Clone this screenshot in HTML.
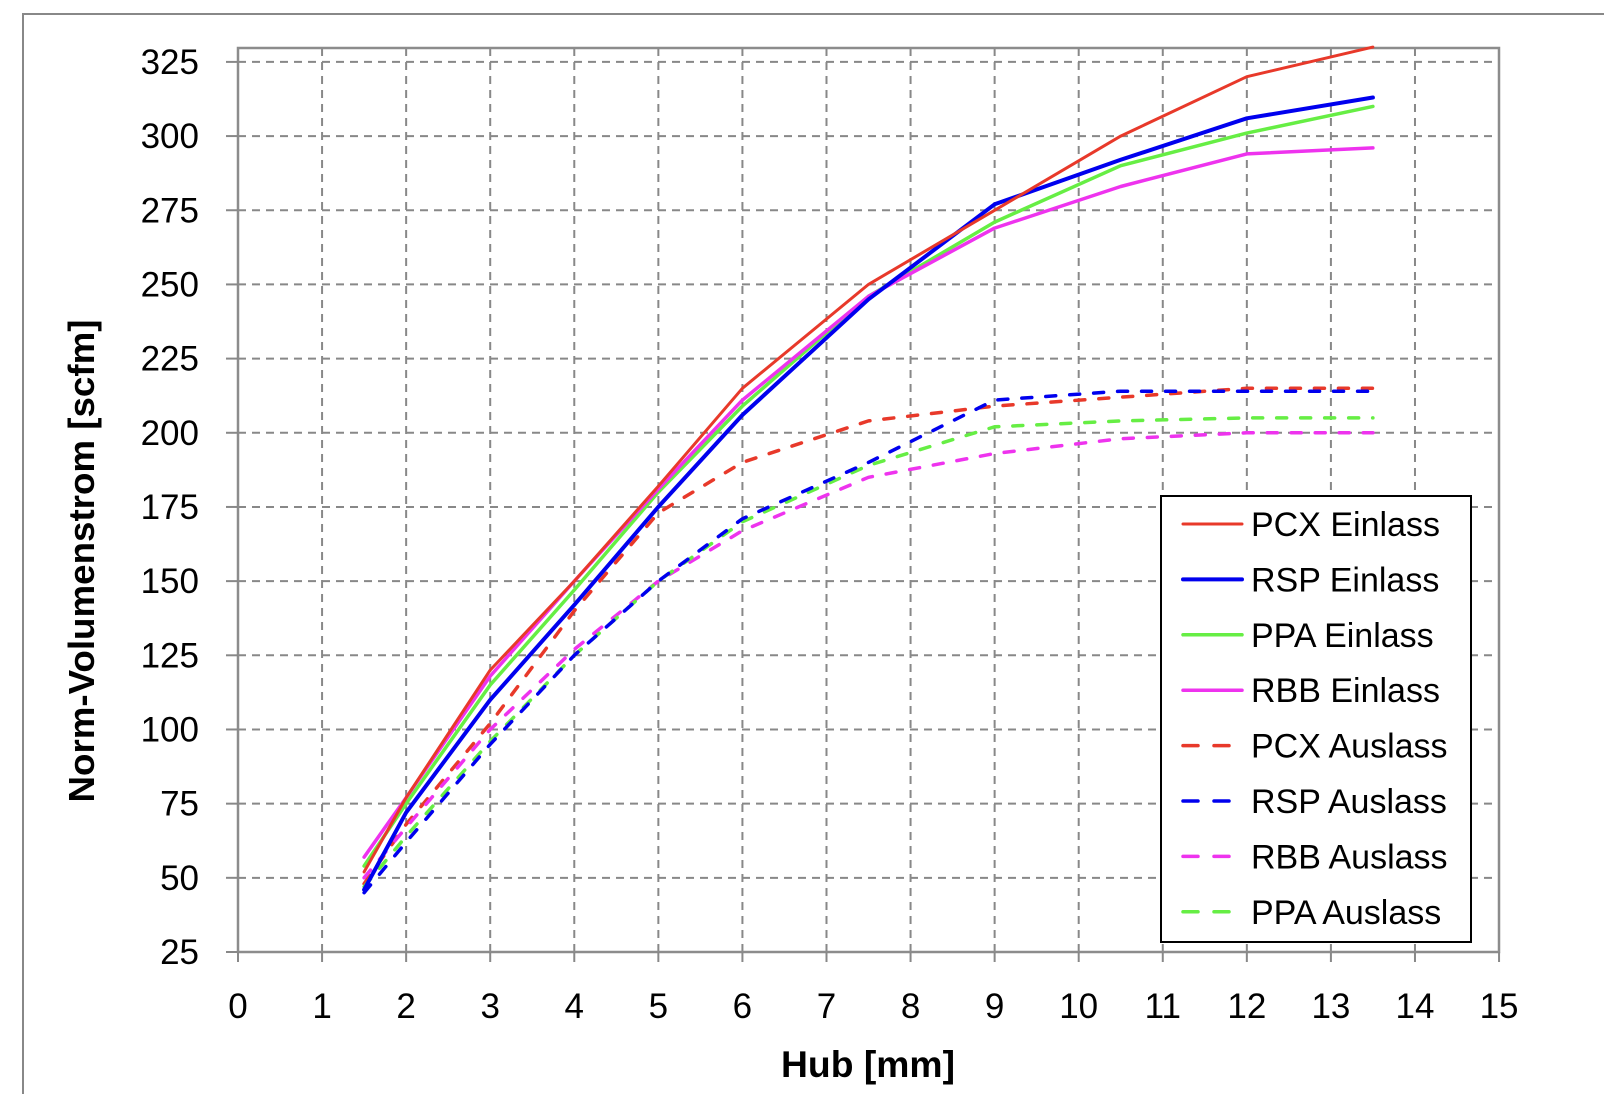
<!DOCTYPE html>
<html><head><meta charset="utf-8"><style>
html,body{margin:0;padding:0;background:#fff;}
svg{display:block;}
text{font-family:"Liberation Sans",sans-serif;fill:#000;}
</style></head><body>
<svg id="s" width="1604" height="1094" xmlns="http://www.w3.org/2000/svg">
<rect width="1604" height="1094" fill="#fff"/>
<polyline points="23,1094 23,14 1604,14" fill="none" stroke="#888" stroke-width="2"/>
<g id="grid"></g>
<rect x="238" y="48" width="1261" height="904" fill="none" stroke="#8c8c8c" stroke-width="2.5"/>
<g id="ticks"></g>
<g id="series"></g>
<text x="868" y="1077" font-size="37" font-weight="bold" text-anchor="middle" textLength="174" lengthAdjust="spacingAndGlyphs">Hub [mm]</text>
<text transform="translate(94,561) rotate(-90)" font-size="36" font-weight="bold" text-anchor="middle" textLength="483" lengthAdjust="spacingAndGlyphs">Norm-Volumenstrom [scfm]</text>
<g>
<rect x="1161" y="496" width="310" height="446" fill="#fff" stroke="#000" stroke-width="2"/>
<g id="leg"></g>
</g>
</svg>
<script>
var NS="http://www.w3.org/2000/svg";
function el(p,t,a,txt){var e=document.createElementNS(NS,t);for(var k in a)e.setAttribute(k,a[k]);if(txt!==undefined)e.textContent=txt;p.appendChild(e);return e;}
var X=function(v){return 238+v*84.07;},Y=function(v){return 952-(v-25)*2.967;};
var g=document.getElementById('grid'),tk=document.getElementById('ticks');
for(var i=1;i<=14;i++)el(g,'line',{x1:X(i),x2:X(i),y1:48,y2:952,stroke:'#888','stroke-width':2,'stroke-dasharray':'8,6'});
for(var v=50;v<=325;v+=25)el(g,'line',{x1:238,x2:1499,y1:Y(v),y2:Y(v),stroke:'#888','stroke-width':2,'stroke-dasharray':'8,6'});
for(var i=0;i<=15;i++){el(tk,'line',{x1:X(i),x2:X(i),y1:952,y2:962,stroke:'#888','stroke-width':2});
el(tk,'text',{x:X(i),y:1018,'font-size':35,'text-anchor':'middle'},String(i));}
for(var v=25;v<=325;v+=25){el(tk,'line',{x1:226,x2:238,y1:Y(v),y2:Y(v),stroke:'#888','stroke-width':2});
el(tk,'text',{x:199,y:Y(v)+12,'font-size':35,'text-anchor':'end'},String(v));}
var xs=[1.5,2,3,4,5,6,7.5,9,10.5,12,13.5];
var S=[
["PCX Einlass","#e8392a",3,0,[52,77,120,150,182,215,250,275,300,320,330]],
["RSP Einlass","#0000ee",4,0,[46,72,110,142,175,206,245,277,292,306,313]],
["PPA Einlass","#66ee44",3.5,0,[54,75,115,147,180,209,246,271,290,301,310]],
["RBB Einlass","#ee33ee",3.5,0,[57,77,118,150,181,211,246,269,283,294,296]],
["PCX Auslass","#e8392a",3.5,1,[48,68,102,140,173,190,204,209,212,215,215]],
["RSP Auslass","#0000ee",3.5,1,[45,62,95,125,150,171,190,211,214,214,214]],
["RBB Auslass","#ee33ee",3.5,1,[50,67,100,127,150,167,185,193,198,200,200]],
["PPA Auslass","#66ee44",3.5,1,[47,64,96,125,150,170,189,202,204,205,205]]];
var sg=document.getElementById('series'),lg=document.getElementById('leg');
var order=[4,6,7,5,2,3,1,0];
order.forEach(function(k){var s=S[k];var pts=xs.map(function(x,j){return X(x).toFixed(1)+','+Y(s[4][j]).toFixed(1);}).join(' ');
var a={points:pts,fill:'none',stroke:s[1],'stroke-width':s[2],'stroke-linejoin':'round','stroke-linecap':'round'};
if(s[3])a['stroke-dasharray']='10,14';el(sg,'polyline',a);});
S.forEach(function(s,i){var y=524+i*55.4;var a={x1:1183,x2:1242,y1:y,y2:y,stroke:s[1],'stroke-width':s[2],'stroke-linecap':'round'};
if(s[3]){a['stroke-dasharray']='15,16';a.x2=1230;}el(lg,'line',a);
el(lg,'text',{x:1251,y:y+12,'font-size':34},s[0]);});
</script>
</body></html>
